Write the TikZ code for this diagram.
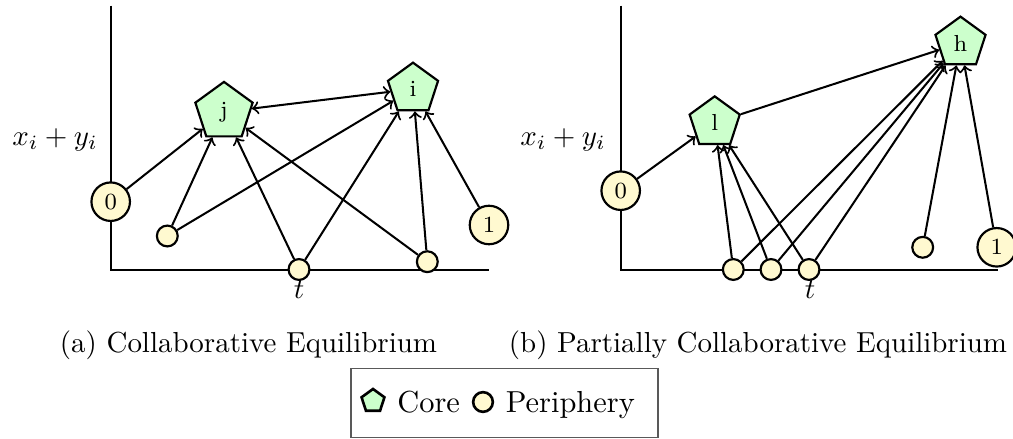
\documentclass[tikz,border=0pt]{standalone}
\usetikzlibrary{shapes.geometric}
\definecolor{coregreen}{RGB}{204,255,204}
\definecolor{periyellow}{RGB}{255,249,208}
\begin{document}
\begin{tikzpicture}[x=0.3454pt,y=-0.3454pt,
  core/.style={regular polygon,regular polygon sides=5,draw,line width=0.75pt,fill=coregreen,inner sep=0pt,minimum size=18.2pt,font=\footnotesize},
  bigper/.style={circle,draw,line width=0.75pt,fill=periyellow,inner sep=0pt,minimum size=13.3pt,font=\footnotesize},
  smallper/.style={circle,draw,line width=0.75pt,fill=periyellow,inner sep=0pt,minimum size=7.2pt},
  link/.style={line width=0.7pt,->},
  both/.style={line width=0.7pt,<->},
  axis/.style={line width=0.75pt},
  captext/.style={anchor=base,font=\normalsize},
  legtext/.style={anchor=base,font=\fontsize{10.5}{12}\selectfont},
]
\useasboundingbox (0,0) rectangle (1013,439);
% ---------- panel (a) ----------
\coordinate (aTop) at (110.7,5.7);
\coordinate (aOrig) at (110.7,270);
\coordinate (aEnd) at (489,270);
\draw[axis] (aTop) -- (aOrig) -- (aEnd);
\node (aylab) at (55,140) {$x_i + y_i$};
\node (atlab) at (299,290) {$t$};
\node[bigper] (a0) at (110.7,201.7) {0};
\node[bigper] (a1) at (489,225) {1};
\node[smallper] (as) at (167.3,236) {};
\node[smallper] (at) at (299,269.5) {};
\node[smallper] (ac) at (427.3,261.7) {};
\node[core,minimum size=20.8pt] (j) at (224,112) {j};
\node[core] (i) at (413,89) {i};
\draw[link] (a0) -- (j);
\draw[link] (as) -- (j);
\draw[link] (as) -- (i);
\draw[link] (at) -- (j);
\draw[link] (at) -- (i);
\draw[link] (ac) -- (j);
\draw[link] (ac) -- (i);
\draw[link] (a1) -- (i);
\draw[both] (j) -- (i);
% ---------- panel (b) ----------
\coordinate (bTop) at (620.7,5.7);
\coordinate (bOrig) at (620.7,270);
\coordinate (bEnd) at (998,270);
\draw[axis] (bTop) -- (bOrig) -- (bEnd);
\node (bylab) at (563,140) {$x_i + y_i$};
\node (btlab) at (810,290) {$t$};
\node[bigper] (b0) at (620.7,190.7) {0};
\node[bigper] (b1) at (996.7,247.3) {1};
\node[smallper] (ba) at (733.3,269.5) {};
\node[smallper] (bb) at (771,269.5) {};
\node[smallper] (bc) at (809,269.5) {};
\node[smallper] (bd) at (922.7,247.3) {};
\node[core] (l) at (714.7,122.7) {l};
\node[core] (h) at (960.5,43) {h};
\draw[link] (b0) -- (l);
\draw[link] (l) -- (h);
\draw[link] (ba) -- (l);
\draw[link] (ba) -- (h);
\draw[link] (bb) -- (l);
\draw[link] (bb) -- (h);
\draw[link] (bc) -- (l);
\draw[link] (bc) -- (h);
\draw[link] (bd) -- (h);
\draw[link] (b1) -- (h);
% ---------- captions ----------
\node[captext] (capa) at (248.5,352.5) {(a) Collaborative Equilibrium};
\node[captext] (capb) at (758,352.5) {(b) Partially Collaborative Equilibrium};
% ---------- legend ----------
\node[draw=black!65,line width=0.5pt,minimum width=106pt,minimum height=23.8pt,inner sep=0pt] (legend) at (504.5,403) {};
\node[regular polygon,regular polygon sides=5,draw,line width=0.9pt,fill=coregreen,inner sep=0pt,minimum size=8.3pt] (legcore) at (373,401) {};
\node[legtext] (legcoretext) at (428.7,412.7) {Core};
\node[circle,draw,line width=0.9pt,fill=periyellow,inner sep=0pt,minimum size=6.8pt] (legper) at (483,402) {};
\node[legtext] (legpertext) at (570.3,412.7) {Periphery};
\end{tikzpicture}
\end{document}
